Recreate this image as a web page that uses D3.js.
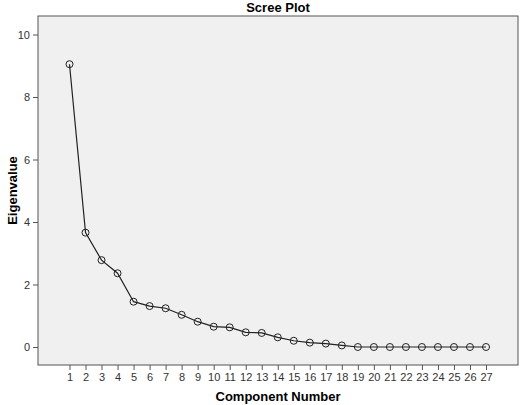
<!DOCTYPE html>
<html>
<head>
<meta charset="utf-8">
<script src="https://cdn.jsdelivr.net/npm/d3@7"></script>
<style>
  body { margin: 0; background: #fff; }
  text { font-family: Arial, "Liberation Sans", sans-serif; }
</style>
</head>
<body>
<div id="chart"></div>
<script>
// data
const components = d3.range(1, 28)
const eigenvalues = [9.05, 3.66, 2.78, 2.36, 1.45, 1.31, 1.24, 1.03, 0.81, 0.65,
  0.63, 0.47, 0.45, 0.31, 0.2, 0.14, 0.11, 0.05, 0, 0, 0, 0, 0, 0, 0, 0, 0]
const yTicks = [0, 2, 4, 6, 8, 10]

const dataset = components.map((c, i) => ({ c, v: eigenvalues[i] }))

const width = 520
const height = 405
const frame = { left: 38, top: 16, right: 518, bottom: 365 }

const svg = d3.select('#chart').append('svg')
  .attr('width', width).attr('height', height)

// plot background
svg.append('rect')
  .attr('x', frame.left).attr('y', frame.top)
  .attr('width', frame.right - frame.left)
  .attr('height', frame.bottom - frame.top)
  .attr('fill', '#f0f0f0')
  .attr('stroke', '#555').attr('stroke-width', 1)

const xScale = d3.scaleLinear().domain([1, 27]).range([69.5, 486])
const yScale = d3.scaleLinear().domain([0, 10]).range([347, 34.5])

// y axis
const yAxis = d3.axisLeft(yScale).tickValues(yTicks).tickSize(5).tickSizeOuter(0)
const yg = svg.append('g').attr('transform', `translate(${frame.left},0)`).call(yAxis)
yg.select('.domain').remove()
yg.selectAll('line').attr('stroke', '#555')
yg.selectAll('text').attr('font-size', 11).attr('fill', '#333')

// x axis
const xAxis = d3.axisBottom(xScale).tickValues(components).tickSize(5).tickSizeOuter(0)
const xg = svg.append('g').attr('transform', `translate(0,${frame.bottom})`).call(xAxis)
xg.select('.domain').remove()
xg.selectAll('line').attr('stroke', '#555')
xg.selectAll('text').attr('font-size', 11).attr('fill', '#333')

// line and markers
const line = d3.line().x((d) => xScale(d.c)).y((d) => yScale(d.v))
svg.append('path').datum(dataset)
  .attr('d', line).attr('fill', 'none')
  .attr('stroke', '#222').attr('stroke-width', 1.2)

svg.selectAll('circle.pt').data(dataset).join('circle')
  .attr('class', 'pt')
  .attr('cx', (d) => xScale(d.c)).attr('cy', (d) => yScale(d.v))
  .attr('r', 3.5).attr('fill', 'none')
  .attr('stroke', '#222').attr('stroke-width', 1)

// titles
svg.append('text').attr('x', 278).attr('y', 12)
  .attr('text-anchor', 'middle').attr('font-size', 13).attr('font-weight', 'bold')
  .text('Scree Plot')

svg.append('text').attr('x', 278).attr('y', 401)
  .attr('text-anchor', 'middle').attr('font-size', 13).attr('font-weight', 'bold')
  .text('Component Number')

svg.append('text')
  .attr('transform', `translate(12,${(frame.top + frame.bottom) / 2}) rotate(-90)`)
  .attr('dy', '0.35em')
  .attr('text-anchor', 'middle').attr('font-size', 13).attr('font-weight', 'bold')
  .text('Eigenvalue')
</script>
</body>
</html>
